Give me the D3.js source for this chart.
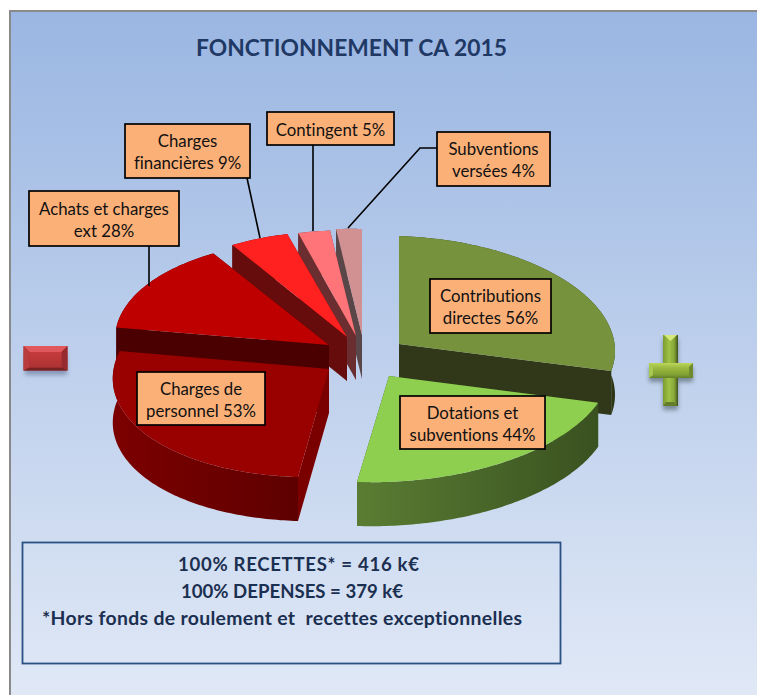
<!DOCTYPE html>
<html><head><meta charset="utf-8">
<script src="https://cdn.jsdelivr.net/npm/d3@7/dist/d3.min.js"></script>
<style>html,body{margin:0;padding:0;background:#fff}svg{display:block}text{font-family:Lato,"Open Sans",sans-serif;font-variant-ligatures:none;font-kerning:normal}</style>
</head><body><svg id="c" width="757" height="695"></svg>
<script>
// DATA
const title = "FONCTIONNEMENT CA 2015";
const recetteNames = ["Contributions directes", "Dotations et subventions"];
const recetteValues = [56, 44];
const depenseNames = ["Charges de personnel", "Achats et charges ext", "Charges financières", "Contingent", "Subventions versées"];
const depenseValues = [53, 28, 9, 5, 4];
const noteLines = ["100% RECETTES* = 416 k€", "100% DEPENSES = 379 k€", "*Hors fonds de roulement et  recettes exceptionnelles"];

// LAYOUT / STYLE (exploded offsets, projection of each slice, label boxes)
const W = 757, H = 695, depth = 44;
const recetteLayout = [
  {cx:399,cy:344,rx:216,ry:108,sx:0,sy:7,top:"#76923c",faces:["#31381a","#31381a"],wall:["#35401c","#2d3716"]},
  {cx:389,cy:376,rx:219,ry:106,sx:-32,sy:7,top:"#8fcf50",faces:["#3c5321","#3c5321"],wall:["#5a7d33","#3a5120"]}
];
const depenseLayout = [
  {cx:329,cy:369,rx:214,ry:108,sx:-31,sy:6,top:"#990000",faces:["#7a0000","#4a0000"],wall:["#7c0000","#5e0000"]},
  {cx:329,cy:345,rx:214,ry:105,sx:0,sy:6,top:"#bf0000",faces:["#4a0000","#4a0000"],wall:["#4a0000","#4a0000"]},
  {cx:347,cy:337,rx:212,ry:105.5,sx:0,sy:6,top:"#ff2020",faces:["#660c0c","#660c0c"],wall:["#660c0c","#660c0c"]},
  {cx:356,cy:336,rx:205,ry:105.5,sx:0,sy:6,top:"#ff7478",faces:["#6b2e30","#6b2e30"],wall:["#6b2e30","#6b2e30"]},
  {cx:362,cy:335,rx:205,ry:106,sx:0,sy:6,top:"#d19092",faces:["#594648","#594648"],wall:["#594648","#594648"]}
];
const recetteBoxes = [
  {x:430,y:279,w:121,h:54,lines:["Contributions","directes"]},
  {x:400,y:396,w:145,h:53,lines:["Dotations et","subventions"]}
];
const depenseBoxes = [
  {x:137,y:372,w:128,h:53,lines:["Charges de","personnel"]},
  {x:29,y:191,w:150,h:55,lines:["Achats et charges","ext"],lead:[[149,246],[149,286]]},
  {x:125,y:124,w:125,h:54,lines:["Charges","financières"],lead:[[247,178],[260,238]]},
  {x:267,y:112,w:127,h:33,lines:["Contingent"],lead:[[313,145],[313,231]]},
  {x:437,y:132,w:113,h:54,lines:["Subventions","versées"],lead:[[437,148],[420,148],[348,228]]}
];

const svg = d3.select("#c");
const defs = svg.append("defs");
function grad(id, stops, vertical){
  const g = defs.append("linearGradient").attr("id",id)
    .attr("x1",0).attr("y1",0).attr("x2",vertical?0:1).attr("y2",vertical?1:0);
  stops.forEach(([o,c])=>g.append("stop").attr("offset",o).attr("stop-color",c));
  return `url(#${id})`;
}
const bgFill = grad("bg",[[0,"#9ab6e2"],[1,"#e1e9f6"]],true);
function blurFilter(id,s){
  const f = defs.append("filter").attr("id",id).attr("x","-30%").attr("y","-30%").attr("width","160%").attr("height","160%");
  f.append("feGaussianBlur").attr("stdDeviation",s);
}
blurFilter("blur",2.2); blurFilter("soft",0.6);

// page frame
svg.append("rect").attr("x",10).attr("y",11).attr("width",W).attr("height",H).attr("fill",bgFill)
  .attr("stroke","#8a8a8a").attr("stroke-width",2);

// title
svg.append("text").attr("x",196).attr("y",55.5).attr("textLength",311).attr("lengthAdjust","spacing")
  .attr("font-size",22.8).attr("font-weight",700).attr("fill","#1f3864").text(title);

// pies: each half of the circle is one budget
const pieR = d3.pie().value(d=>d).sort(null).startAngle(0).endAngle(Math.PI);
const pieD = d3.pie().value(d=>d).sort(null).startAngle(Math.PI).endAngle(2*Math.PI);
const line = d3.line();

function pt(l,t,dy=0){
  const u=Math.sin(t), v=-Math.cos(t);
  return [l.cx+l.rx*u+l.sx*v, l.cy+l.ry*v+l.sy*u+dy];
}
function drawSlice(arc,l,i,key){
  const n=Math.max(6,Math.ceil((arc.endAngle-arc.startAngle)*60));
  const ts=d3.range(n+1).map(k=>arc.startAngle+(arc.endAngle-arc.startAngle)*k/n);
  const rim=ts.map(t=>pt(l,t));
  const low=ts.map(t=>pt(l,t,depth)).reverse();
  const g=svg.append("g").attr("class","slice "+key);
  const face=(t,c)=>{
    const a=pt(l,t);
    g.append("path").attr("d",line([[l.cx,l.cy],a,[a[0],a[1]+depth],[l.cx,l.cy+depth]])+"Z").attr("fill",c);
  };
  face(arc.endAngle,l.faces[1]);
  face(arc.startAngle,l.faces[0]);
  const wallFill=grad("w"+key+i,[[0,l.wall[0]],[1,l.wall[1]]],false);
  g.append("path").attr("d",line(rim.concat(low))+"Z").attr("fill",wallFill);
  g.append("path").attr("d",line([[l.cx,l.cy]].concat(rim))+"Z").attr("fill",l.top);
}
const arcsD=pieD(depenseValues), arcsR=pieR(recetteValues);
// back-to-front
d3.range(arcsD.length-1,-1,-1).forEach(i=>drawSlice(arcsD[i],depenseLayout[i],i,"d"));
d3.range(arcsR.length).forEach(i=>drawSlice(arcsR[i],recetteLayout[i],i,"r"));

// labels
function drawBox(b,value){
  if(b.lead) svg.append("path").attr("d",line(b.lead)).attr("fill","none").attr("stroke","#000").attr("stroke-width",1.6);
  svg.append("rect").attr("x",b.x).attr("y",b.y).attr("width",b.w).attr("height",b.h)
    .attr("fill","#fbb078").attr("stroke","#000").attr("stroke-width",1.7);
  const lines=b.lines.slice(); lines[lines.length-1]+=" "+value+"%";
  const lh=22, first=b.y+b.h/2-(lines.length-1)*lh/2+7;
  lines.forEach((t,i)=>svg.append("text").attr("x",b.x+b.w/2).attr("y",first+i*lh).attr("text-anchor","middle")
    .attr("font-size",16.8).attr("fill","#111").text(t));
}
recetteBoxes.forEach((b,i)=>drawBox(b,recetteValues[i]));
depenseBoxes.forEach((b,i)=>drawBox(b,depenseValues[i]));

// minus icon
function poly(g,pts,fill){g.append("path").attr("d",line(pts)+"Z").attr("fill",fill);}
svg.append("rect").attr("x",25).attr("y",354).attr("width",42).attr("height",21).attr("fill","#5a6a8a").attr("opacity",.55).attr("filter","url(#blur)");
const mg=svg.append("g").attr("filter","url(#soft)");
const mx0=23.5,mx1=67.5,my0=346,my1=370.5,b=6;
poly(mg,[[mx0,my0],[mx1,my0],[mx1,my1],[mx0,my1]],"#a22f30");
poly(mg,[[mx0,my0],[mx1,my0],[mx1-b,my0+b],[mx0+b,my0+b]],"#e0595b");
poly(mg,[[mx0,my0],[mx0+b,my0+b],[mx0+b,my1-3],[mx0,my1]],"#b93b3c");
poly(mg,[[mx1,my0],[mx1-b,my0+b],[mx1-b,my1-3],[mx1,my1]],"#962c2d");
poly(mg,[[mx0,my1],[mx0+b,my1-3],[mx1-b,my1-3],[mx1,my1]],"#752122");
mg.append("rect").attr("x",mx0+b).attr("y",my0+b).attr("width",mx1-mx0-2*b).attr("height",my1-my0-b-3).attr("fill",grad("mf",[[0,"#c63b3c"],[1,"#ad3233"]],true));

// plus icon
const cross=(ox,oy)=>[[663+ox,335+oy],[678+ox,335+oy],[678+ox,363+oy],[693+ox,363+oy],[693+ox,378+oy],[678+ox,378+oy],[678+ox,406+oy],[663+ox,406+oy],[663+ox,378+oy],[649+ox,378+oy],[649+ox,363+oy],[663+ox,363+oy]];
svg.append("path").attr("d",line(cross(0,4))+"Z").attr("fill","#4a5a60").attr("opacity",.6).attr("filter","url(#blur)");
const pg=svg.append("g").attr("filter","url(#soft)");
pg.append("rect").attr("x",663).attr("y",335).attr("width",15).attr("height",71)
  .attr("fill",grad("pf",[[0,"#7c9b31"],[.4,"#9fc246"],[.75,"#86a737"],[1,"#3f4f1c"]],false));
pg.append("rect").attr("x",649).attr("y",363).attr("width",44).attr("height",15)
  .attr("fill",grad("ph",[[0,"#bcd65c"],[.35,"#98b83f"],[.75,"#83a334"],[1,"#64802a"]],true));
poly(pg,[[664,335],[677,335],[670.5,341]],"#d8e97c");
poly(pg,[[663,406],[677,406],[674,402],[666,402]],"#627c29");
poly(pg,[[649,363],[653,367],[653,375],[649,378]],"#a9c850");
poly(pg,[[693,363],[689,367],[689,375],[693,378]],"#6f8b2d");

// note box
svg.append("rect").attr("x",22.5).attr("y",542.5).attr("width",538).attr("height",121)
  .attr("fill","none").attr("stroke","#2a5183").attr("stroke-width",1.8);
const note=svg.append("g").attr("font-size",18.6).attr("font-weight",700).attr("fill","#1b2f50");
note.append("text").attr("x",178).attr("y",570.5).attr("textLength",241).attr("lengthAdjust","spacing").text(noteLines[0]);
note.append("text").attr("x",181).attr("y",597.5).attr("textLength",222).attr("lengthAdjust","spacing").text(noteLines[1]);
note.append("text").attr("x",42).attr("y",624.5).attr("font-size",19.4).attr("textLength",480).attr("lengthAdjust","spacing").attr("xml:space","preserve").style("white-space","pre").text(noteLines[2]);
</script></body></html>
